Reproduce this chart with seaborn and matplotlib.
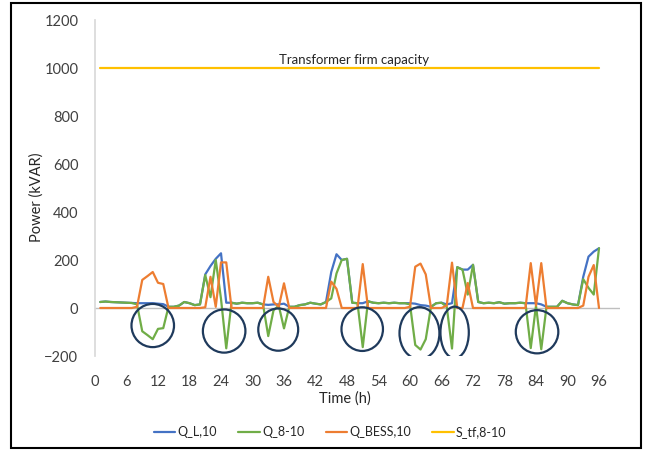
import pandas as pd
import matplotlib.pyplot as plt
import seaborn as sns
from matplotlib.patches import Ellipse, Rectangle

# hourly values (kVAR), hours 1..96
hours = list(range(1, 97))

q_load = [25, 27, 25, 24, 23, 22, 21, 20, 20, 20, 20, 18, 16, 5, 5, 10,
          25, 20, 12, 15, 140, 175, 205, 228, 22, 22, 18, 22, 20, 20, 22, 15,
          13, 15, 15, 18, 5, 5, 12, 15, 22, 18, 15, 25, 150, 224, 200, 205,
          22, 20, 20, 28, 22, 20, 22, 20, 22, 20, 20, 20, 18, 12, 10, 5,
          20, 22, 15, 20, 170, 160, 160, 180, 25, 20, 22, 20, 24, 18, 20, 20,
          22, 20, 20, 20, 15, 5, 5, 5, 30, 20, 15, 12, 130, 214, 235, 249]

q_net = [25, 27, 25, 24, 23, 22, 21, 15, -97, -113, -130, -87, -84, 5, 5, 10,
         25, 20, 12, 15, 137, 45, 200, 38, -168, 22, 18, 22, 20, 20, 22, 15,
         -117, -10, 10, -85, 5, 5, 12, 15, 22, 18, 15, 25, 40, 144, 200, 205,
         22, 20, -163, 28, 22, 20, 22, 20, 22, 20, 20, 15, -154, -173, -130, 5,
         20, 22, 5, -169, 170, 160, 56, 180, 25, 20, 22, 20, 24, 18, 20, 20,
         22, 20, -167, 10, -172, 5, 5, 5, 30, 20, 15, 12, 120, 84, 56, 249]

q_bess = [0, 0, 0, 0, 0, 0, 0, 5, 117, 133, 150, 105, 100, 0, 0, 0,
          0, 0, 0, 0, 3, 130, 5, 190, 190, 0, 0, 0, 0, 0, 0, 0,
          130, 25, 5, 103, 0, 0, 0, 0, 0, 0, 0, 0, 110, 80, 0, 0,
          0, 0, 183, 0, 0, 0, 0, 0, 0, 0, 0, 5, 172, 185, 140, 0,
          0, 0, 10, 189, 0, 0, 104, 0, 0, 0, 0, 0, 0, 0, 0, 0,
          0, 0, 187, 10, 187, 0, 0, 0, 0, 0, 0, 0, 10, 130, 179, 0]

s_tf = [1000] * 96

series_names = ["Q_L,10", "Q_8-10", "Q_BESS,10", "S_tf,8-10"]
colors = ["#4472C4", "#70AD47", "#ED7D31", "#FFC000"]

# circled dips: (hour, kVAR, width in h, height in kVAR)
circles = [(11.0, -73, 8.1, 180), (24.6, -96, 8.1, 180), (34.9, -90, 7.6, 176),
           (50.9, -88, 7.9, 182), (61.8, -105, 7.6, 217), (68.5, -102, 5.4, 215),
           (84.2, -99, 8.1, 180)]

df = pd.DataFrame({
    "Time": hours * 4,
    "Power": q_load + q_net + q_bess + s_tf,
    "Series": [s for s in series_names for _ in hours],
})

sns.set_theme(style="white")
plt.rcParams['font.family'] = ['Lato', 'DejaVu Sans']

fig = plt.figure(figsize=(6.5, 4.51), dpi=100)
ax = fig.add_axes([95/650, 1 - 356/451, 525/650, 336/451])

sns.lineplot(data=df, x="Time", y="Power", hue="Series", hue_order=series_names,
             palette=dict(zip(series_names, colors)), estimator=None,
             linewidth=1.6, ax=ax)

for h, v, w, ht in circles:
    ax.add_patch(Ellipse((h, v), w, ht, fill=False, edgecolor="#1F3A5C", lw=1.6, zorder=5))

ax.axhline(0, color="#BFBFBF", lw=1, zorder=0)
ax.text(49.3, 1008, "Transformer firm capacity", ha="center", va="bottom", fontsize=9.5)

ax.set_xlim(0, 100)
ax.set_ylim(-200, 1200)
ax.set_xticks(range(0, 97, 6))
ax.set_yticks(range(-200, 1201, 200))
ax.tick_params(axis="both", labelsize=10.5, length=0, colors="#404040")
ax.tick_params(axis="x", pad=14)
ax.tick_params(axis="y", pad=12)
for s in ["top", "right", "bottom"]:
    ax.spines[s].set_visible(False)
ax.spines["left"].set_color("#D9D9D9")

ax.set_xlabel("Time (h)", fontsize=10.5)
ax.set_ylabel("Power (kVAR)", fontsize=10.5)
ax.xaxis.set_label_coords(0.476, -0.105)
ax.yaxis.set_label_coords(-0.098, 0.473)

sns.move_legend(ax, "center", bbox_to_anchor=(0.448, -0.226), ncol=4,
                frameon=False, title=None, fontsize=9, handlelength=1.7,
                handletextpad=0.2, columnspacing=1.7)

fig.patches.append(Rectangle((11/650, 3/451), 630/650, 445/451, transform=fig.transFigure,
                             fill=False, edgecolor="black", lw=1.5))

fig.savefig("out.png", dpi=100)
